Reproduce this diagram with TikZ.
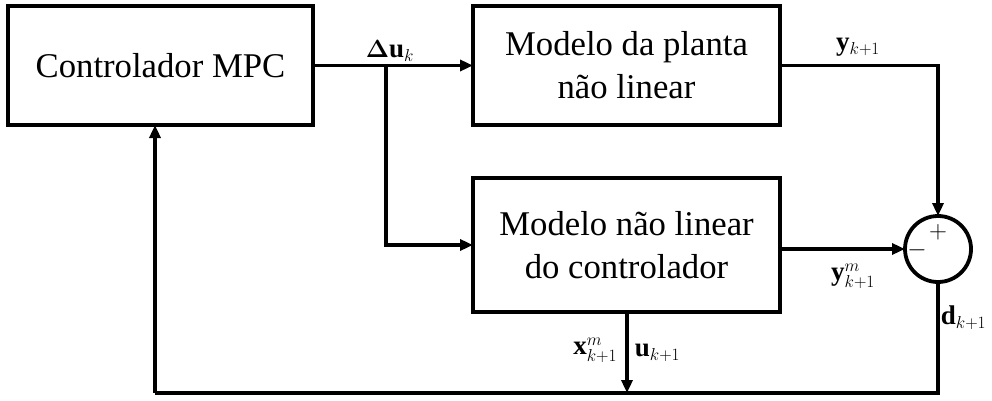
\documentclass[tikz,border=0pt]{standalone}
\usepackage{amsmath,bm}
\usepackage{fontspec}
\setmainfont{Liberation Serif}
\usetikzlibrary{arrows.meta}
\begin{document}
\begin{tikzpicture}[x=1pt,y=-1pt,
  line width=3.8pt,
  blockbox/.style={draw,rectangle,inner sep=0pt,outer sep=0pt,align=center,
    font=\fontsize{34.7}{43}\selectfont},
  sumnode/.style={draw,circle,inner sep=0pt,outer sep=0pt,minimum size=66pt},
  arr/.style={-{Triangle[length=13pt,width=11pt]}},
  sig/.style={inner sep=0pt,font=\fontsize{27}{32}\selectfont},
  sgn/.style={inner sep=0pt,font=\fontsize{28}{32}\selectfont}]
\useasboundingbox (0,0) rectangle (992,401);

% blocks
\node[blockbox,minimum width=305pt,minimum height=119pt] (mpc) at (160.5,65.5) {Controlador MPC};
\node[blockbox,minimum width=307pt,minimum height=119pt] (planta) at (626.5,65.5) {Modelo da planta\\não linear};
\node[blockbox,minimum width=307pt,minimum height=134pt] (ctrl) at (626.5,245) {Modelo não linear\\do controlador};
\node[sumnode] (sum) at (938,249) {};
\node[sgn] (plus) at (938,232) {$+$};
\node[sgn] (minus) at (917,250) {$-$};

% junction and corner points
\coordinate (br) at (386,65.5);
\coordinate (tap) at (627,393);
\coordinate (bl) at (155,393);

% signal paths
\draw[arr] (mpc.east) -- (planta.west);
\draw[arr] (br) |- (ctrl.west);
\draw[arr] (planta.east) -| (sum.north);
\draw[arr] (sum.west -| ctrl.east) -- (sum.west);
\draw (sum.south) |- (bl);
\draw[arr] (bl) -- (mpc.south -| bl);
\draw[arr] (ctrl.south -| tap) -- (tap);

% signal labels
\node[sig] (lu) at (390,51) {$\boldsymbol{\Delta}\mathbf{u}_{k}$};
\node[sig] (ly) at (858,47) {$\mathbf{y}_{k+1}$};
\node[sig] (lym) at (853,276) {$\mathbf{y}^{m}_{k+1}$};
\node[sig,anchor=west] (ld) at (939,318) {$\mathbf{d}_{k+1}$};
\node[sig,anchor=east] (lx) at (619,350) {$\mathbf{x}^{m}_{k+1}$};
\node[sig,anchor=west] (lu1) at (633,353) {$\mathbf{u}_{k+1}$};
\end{tikzpicture}
\end{document}
